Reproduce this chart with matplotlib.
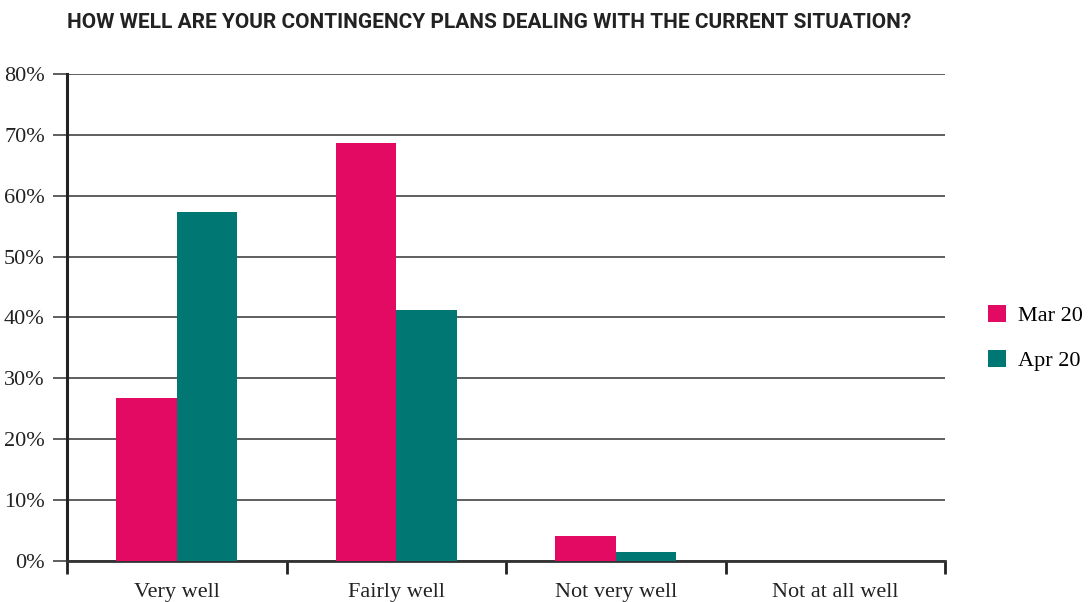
import matplotlib
matplotlib.use("Agg")
import matplotlib.pyplot as plt
import numpy as np

categories = ["Very well", "Fairly well", "Not very well", "Not at all well"]
series_names = ["Mar 20", "Apr 20"]
mar_values = [26.8, 68.7, 4.1, 0.0]
apr_values = [57.4, 41.3, 1.5, 0.0]
y_ticks = [0, 10, 20, 30, 40, 50, 60, 70, 80]
title = "HOW WELL ARE YOUR CONTINGENCY PLANS DEALING WITH THE CURRENT SITUATION?"

colors = ["#E20A63", "#007773"]
serif = ["Liberation Serif", "DejaVu Serif"]

fig = plt.figure(figsize=(10.9, 6.02), dpi=100)
ax = fig.add_axes([67/1090, 1-561/602, (945-67)/1090, (561-74)/602])

x = np.arange(len(categories))
w = 0.275
ax.bar(x - w/2, mar_values, width=w, color=colors[0], label=series_names[0], zorder=3)
ax.bar(x + w/2, apr_values, width=w, color=colors[1], label=series_names[1], zorder=3)

ax.set_xlim(-0.5, len(categories) - 0.5)
ax.set_ylim(0, 80)
ax.set_yticks(y_ticks)
ax.set_yticklabels([f"{v}%" for v in y_ticks], fontfamily=serif, fontsize=16, color="#222222")
ax.yaxis.grid(True, color="#333333", linewidth=1.1, zorder=0)
ax.set_axisbelow(True)

ax.set_xticks(x)
ax.set_xticklabels(categories, fontfamily=serif, fontsize=16, color="#222222")
ax.tick_params(axis="x", which="major", length=0, pad=16)
ax.set_xticks(np.arange(-0.5, len(categories)), minor=True)
ax.tick_params(axis="x", which="minor", length=9, width=2, color="#222222", direction="out")
ax.tick_params(axis="y", length=10, width=1.1, color="#333333", pad=6)

for s in ["top", "right"]:
    ax.spines[s].set_visible(False)
ax.spines["left"].set_linewidth(2.2)
ax.spines["left"].set_color("#222222")
ax.spines["bottom"].set_linewidth(2.0)
ax.spines["bottom"].set_color("#333333")

leg = fig.legend(loc="center left", bbox_to_anchor=(988/1090, 1-338/602), frameon=False,
                 prop={"family": serif, "size": 16}, handlelength=0.8, handleheight=0.8,
                 labelspacing=1.1, handletextpad=0.55, borderpad=0, borderaxespad=0)

fig.text(67/1090, 1-22/602, title, fontsize=15, fontweight="bold", color="#222222",
         fontfamily=["Roboto", "DejaVu Sans"], va="center", ha="left")

fig.savefig("out.png", dpi=100)
